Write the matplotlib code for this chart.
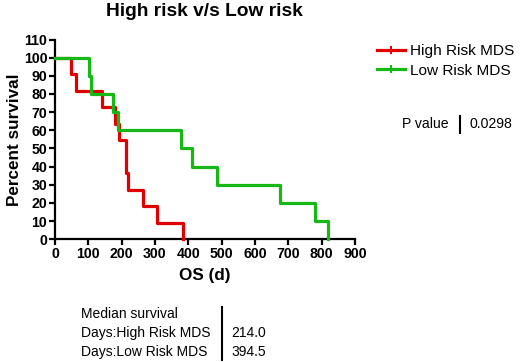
import matplotlib
matplotlib.use("Agg")
import matplotlib.pyplot as plt
from matplotlib.lines import Line2D

plt.rcParams['font.family'] = ['Liberation Sans', 'DejaVu Sans']

# Kaplan-Meier steps
high_days = [0, 47, 63, 140, 180, 193, 213, 218, 263, 305, 385]
high_surv = [100, 90.9, 81.8, 72.7, 63.6, 54.5, 36.4, 27.3, 18.2, 9.1, 0]
low_days = [0, 103, 107, 173, 190, 378, 411, 487, 675, 780, 820]
low_surv = [100, 90, 80, 70, 60, 50, 40, 30, 20, 10, 0]

x_ticks = list(range(0, 1000, 100))
y_ticks = list(range(0, 120, 10))

p_value = "0.0298"
median_rows = ["Days:High Risk MDS", "Days:Low Risk MDS"]
median_vals = ["214.0", "394.5"]

red = "#e00000"
green = "#16b816"

W, H = 520, 362
fig = plt.figure(figsize=(W / 100, H / 100), dpi=100)
ax = fig.add_axes([55 / W, 1 - 239.3 / H, 300 / W, 199.8 / H])

ax.step(high_days, high_surv, where="post", color=red, lw=2.3, clip_on=False, zorder=3)
ax.step(low_days, low_surv, where="post", color=green, lw=2.3, clip_on=False, zorder=4)

ax.set_xlim(0, 900)
ax.set_ylim(0, 110)
ax.set_xticks(x_ticks)
ax.set_yticks(y_ticks)
for s in ["top", "right"]:
    ax.spines[s].set_visible(False)
for s in ["left", "bottom"]:
    ax.spines[s].set_linewidth(1.6)
ax.tick_params(direction="out", length=4, width=1.6, labelsize=10.2, pad=1.5)
for lab in ax.get_xticklabels() + ax.get_yticklabels():
    lab.set_fontweight("bold")

ax.set_xlabel("OS (d)", fontsize=12.3, fontweight="bold", labelpad=5)
ax.set_ylabel("Percent survival", fontsize=12.3, fontweight="bold", labelpad=1)
ax.yaxis.set_label_coords(-33 / 300, 0.5)
fig.text(204.5 / W, 1 - 11 / H, "High risk v/s Low risk", ha="center", va="center",
         fontsize=13.8, fontweight="bold")

handles = [Line2D([], [], color=red, lw=2.3, marker="|", markersize=6, markeredgewidth=1.5),
           Line2D([], [], color=green, lw=2.3, marker="|", markersize=6, markeredgewidth=1.5)]
fig.legend(handles, ["High Risk MDS", "Low Risk MDS"], loc="upper left",
           bbox_to_anchor=(371 / W, 1 - 38 / H), frameon=False, fontsize=11.1,
           handlelength=1.8, handletextpad=0.3, labelspacing=0.35, borderaxespad=0)

# p value box
fig.text(449 / W, 1 - 124 / H, "P value", ha="right", va="center", fontsize=10.1)
fig.add_artist(Line2D([460 / W, 460 / W], [1 - 116 / H, 1 - 133 / H], color="black", lw=1.5))
fig.text(469 / W, 1 - 124 / H, p_value, ha="left", va="center", fontsize=10.1)

# median survival table
fig.text(81 / W, 1 - 314 / H, "Median survival", ha="left", va="center", fontsize=10)
for i, (row, val) in enumerate(zip(median_rows, median_vals)):
    y = 1 - (333 + 19 * i) / H
    fig.text(81 / W, y, row, ha="left", va="center", fontsize=10)
    fig.text(231 / W, y, val, ha="left", va="center", fontsize=10)
fig.add_artist(Line2D([221.5 / W, 221.5 / W], [1 - 307 / H, 1 - 360 / H], color="black", lw=1.5))

fig.savefig("out.png", dpi=100)
